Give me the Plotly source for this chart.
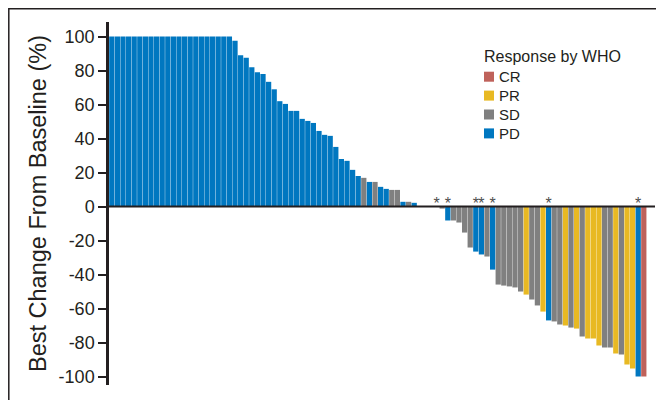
import plotly.graph_objects as go

# ---- data ----
values = [
    100, 100, 100, 100, 100, 100, 100, 100, 100, 100, 100,
    100, 100, 100, 100, 100, 100, 100, 100, 100, 100, 100,
    97.5, 89, 87.5, 82, 79, 78, 73.4, 69, 62, 60.4,
    56.3, 56.3, 51.6, 50.4, 49.2, 44.5, 42.2, 41.6, 35.1, 28,
    26.9, 21.6, 18, 16.9, 14.5, 14.5, 11.6, 10.4, 9.8, 9.8,
    2.8, 2.8, 2.2,
    0, 0, 0, 0,
    -1.2, -8.2, -8.2, -9.4, -15.3, -24.1, -26.5, -28.2, -29.4, -37.1,
    -45.9, -46.5, -47, -47.6, -50, -51.8, -54.7, -58.2, -61.8, -67,
    -67.6, -69.4, -70, -71.2, -71.8, -76.5, -77.6, -77.6, -81.8, -82.9,
    -82.9, -86.5, -87, -92.9, -95.3, -100, -100,
]
responses = (
    ["PD"] * 45
    + ["SD", "PD", "SD", "PD", "PD", "SD", "SD", "PD", "SD", "PD"]
    + ["SD", "SD", "SD", "PD"]
    + ["SD", "PD", "SD", "SD", "SD", "SD", "PD", "PD", "SD", "PD",
       "SD", "SD", "SD", "SD", "SD", "PR", "SD", "SD", "PR", "PD",
       "SD", "SD", "PR", "SD", "PR", "SD", "PR", "PR", "PR", "SD",
       "SD", "PR", "SD", "PR", "PR", "PD", "CR"]
)
asterisk_idx = [58, 60, 65, 66, 68, 78, 94]
categories = ["CR", "PR", "SD", "PD"]
colors = {"CR": "#BF625B", "PR": "#E8B923", "SD": "#808080", "PD": "#0077C0"}
yticks = [100, 80, 60, 40, 20, 0, -20, -40, -60, -80, -100]
legend_title = "Response by WHO"

FONT = "Liberation Sans, Arial, sans-serif"
INK = "#231f20"

# The page body has an 8px margin, so the figure is drawn 8px in from
# the window's top-left corner; geometry below is in window pixels.
OFF = 8
W, H = 656, 392
L, T = 109 - OFF, 22 - OFF
R = W - (655 - OFF)
B = H - (385 - OFF)
PW, PH = W - L - R, H - T - B


def px(x):
    return (x - OFF - L) / PW


def py(y):
    return (H - B - (y - OFF)) / PH


fig = go.Figure()
for cat in categories:
    xs = [i for i, r in enumerate(responses) if r == cat]
    ys = [values[i] for i in xs]
    fig.add_trace(go.Bar(
        x=xs, y=ys, name=cat, width=0.94,
        marker=dict(color=colors[cat], line=dict(width=0)),
        showlegend=False,
    ))

fig.add_trace(go.Scatter(
    x=asterisk_idx, y=[1.0] * len(asterisk_idx), mode="text",
    text=["*"] * len(asterisk_idx), textposition="middle center",
    textfont=dict(size=16, color="#4d4d4d", family=FONT),
    showlegend=False, hoverinfo="skip",
))

annotations = [dict(
    text=legend_title, xref="paper", yref="paper", x=px(482), y=py(57),
    xanchor="left", yanchor="middle", showarrow=False,
    font=dict(size=16, color=INK, family=FONT),
)]
shapes = [
    dict(type="line", xref="paper", yref="y", x0=0, x1=1, y0=0, y1=0,
         line=dict(color=INK, width=2), layer="above"),
    dict(type="rect", xref="paper", yref="paper",
         x0=px(8.8), x1=px(657.5), y0=py(410), y1=py(8.8),
         line=dict(color=INK, width=1.5), layer="above"),
]
for k, cat in enumerate(categories):
    cy = 76.7 + k * 18.9
    shapes.append(dict(
        type="rect", xref="paper", yref="paper",
        x0=px(484), x1=px(494), y0=py(cy + 5), y1=py(cy - 5),
        fillcolor=colors[cat], line=dict(width=0),
    ))
    annotations.append(dict(
        text=cat, xref="paper", yref="paper", x=px(497), y=py(cy),
        xanchor="left", yanchor="middle", showarrow=False,
        font=dict(size=15, color=INK, family=FONT),
    ))

fig.update_layout(
    width=W, height=H,
    margin=dict(l=L, r=R, t=T, b=B, autoexpand=False),
    paper_bgcolor="white", plot_bgcolor="white",
    barmode="overlay",
    font=dict(family=FONT, color=INK),
    showlegend=False,
    xaxis=dict(range=[-0.5, 97], visible=False, fixedrange=True),
    yaxis=dict(
        range=[-105, 108.6], tickvals=yticks,
        ticktext=[str(v) for v in yticks],
        showgrid=False, zeroline=False, automargin=False,
        showline=True, linewidth=2.5, linecolor=INK,
        ticks="outside", ticklen=8, tickwidth=1.5, tickcolor=INK,
        tickfont=dict(size=18, color=INK, family=FONT),
        title=dict(text="Best Change From Baseline (%)",
                   font=dict(size=23.5, color=INK, family=FONT), standoff=6),
    ),
    shapes=shapes,
    annotations=annotations,
)

fig.write_html("out.html")
